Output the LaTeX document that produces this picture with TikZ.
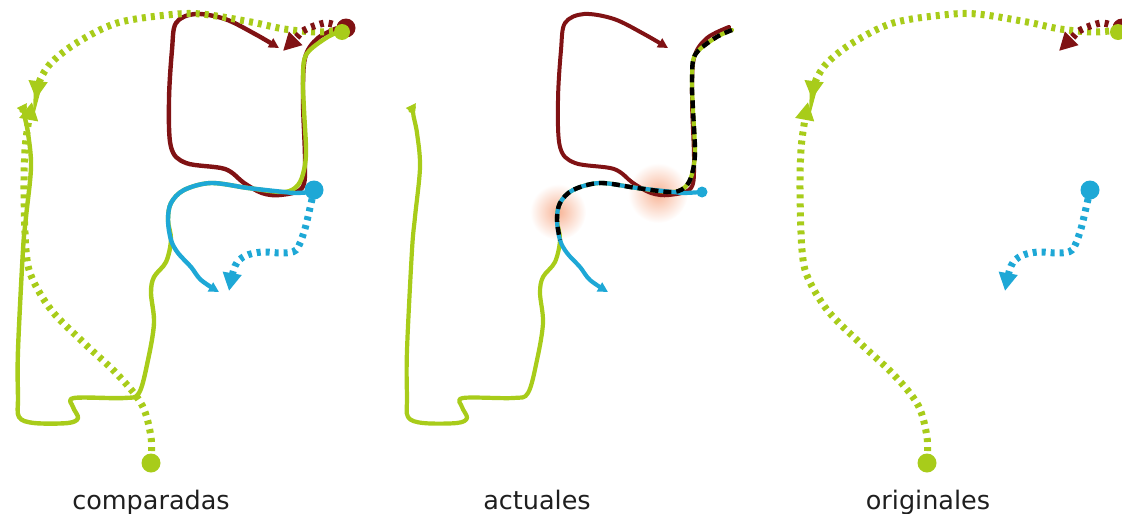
\documentclass[tikz,border=0pt]{standalone}
\usepackage{fontspec}
\setmainfont{DejaVu Sans}
\usetikzlibrary{arrows.meta}
\definecolor{gr}{RGB}{168,204,26}
\definecolor{rd}{RGB}{128,18,20}
\definecolor{bl}{RGB}{30,168,214}
\definecolor{glow}{RGB}{248,180,150}
\tikzset{
  solidline/.style={line width=4.4pt, line cap=round, line join=round},
  dotline/.style={line width=7pt, dash pattern=on 4pt off 5pt},
  bigtip/.style={-{Triangle[length=18pt,width=18pt]}},
  smalltip/.style={-{Triangle[length=10pt,width=10pt]}},
  lbl/.style={anchor=base, font=\fontsize{25.5}{30}\selectfont, text=black!88, inner sep=0pt}
}
\newcommand{\redsolid}{plot[smooth, tension=0.55] coordinates {(340,27) (318,38) (305,58) (303,100) (305,160) (302,188) (280,195) (262,193) (244,183) (225,169) (186,163) (171,147) (169,100) (172,50) (176,23) (195,14) (225,19) (255,34) (279,48)}}
\newcommand{\greensolid}{plot[smooth, tension=0.55] coordinates {(343,30) (326,38) (306,55) (303,80) (304,110) (306,150) (304,170) (298,185) (284,192) (248,188) (211,183) (184,190) (171,203) (168,220) (171,240) (166,262) (154,277) (151,293) (154,323) (148,360) (139,393) (124,398) (74,398) (73,407) (78,418) (68,423) (34,423) (19,417) (18,397) (18,350) (23,250) (26,217) (31,167) (28,133) (24,112) (27,103)}}
\newcommand{\bluesolid}{plot[smooth, tension=0.55] coordinates {(313,192) (295,193) (284,192) (248,188) (211,183) (184,190) (171,203) (168,220) (171,240) (178,253) (191,267) (201,280) (219,292)}}
\newcommand{\dashedpart}{plot[smooth, tension=0.55] coordinates {(343,30) (326,38) (306,55) (303,80) (304,110) (306,150) (304,170) (298,185) (284,192) (248,188) (211,183) (184,190) (171,203) (168,220) (171,240)}}
\newcommand{\dotA}{plot[smooth, tension=0.55] coordinates {(151,460) (151,437) (142,405) (118,375) (84,343) (52,311) (32,278) (26,250) (24,190) (25,150) (28,125) (32,102)}}
\newcommand{\dotB}{plot[smooth, tension=0.55] coordinates {(342,30) (317,32) (284,29) (251,22) (201,14) (167,15) (117,23) (78,42) (52,62) (40,80) (36,99)}}
\newcommand{\dotBlue}{plot[smooth, tension=0.55] coordinates {(314,190) (310,208) (304,232) (296,250) (282,253) (262,252) (245,256) (235,266) (229,291)}}
\newcommand{\dotRed}{plot[smooth, tension=0.55] coordinates {(341,27) (327,23) (314,26) (303,31) (296,38) (283,51)}}
\newcommand{\original}{%
  \draw[dotline, gr, bigtip] \dotA;
  \draw[dotline, gr, bigtip] \dotB;
  \draw[dotline, rd, bigtip] \dotRed;
  \draw[dotline, bl, bigtip] \dotBlue;
  \fill[rd] (346,28) circle (9.5);
  \fill[gr] (342,32) circle (8);
  \fill[gr] (151,463) circle (9.5);
  \fill[bl] (314,190) circle (9.5);
}
\begin{document}
\begin{tikzpicture}[x=1pt,y=-1pt]
\useasboundingbox (0,0) rectangle (1122,514);
% left panel: comparadas
\begin{scope}
  \draw[solidline, rd, smalltip] \redsolid;
  \draw[solidline, gr, smalltip] \greensolid;
  \draw[solidline, bl, smalltip] \bluesolid;
  \original
\end{scope}
% middle panel: actuales
\begin{scope}[xshift=389pt]
  \shade[inner color=glow, outer color=white] (169,212) circle (28);
  \shade[inner color=glow, outer color=white] (269,193) circle (30);
  \draw[solidline, rd, smalltip, line width=4pt] \redsolid;
  \draw[solidline, gr, smalltip, line width=4.2pt] \greensolid;
  \draw[solidline, bl, smalltip, line width=4.2pt] \bluesolid;
  \fill[bl] (313,192) circle (5.5);
  \draw[line width=4.4pt, black, dash pattern=on 8pt off 5pt] \dashedpart;
\end{scope}
% right panel: originales
\begin{scope}[xshift=776pt]
  \original
\end{scope}
\node[lbl] (l1) at (151,509) {comparadas};
\node[lbl] (l2) at (537,509) {actuales};
\node[lbl] (l3) at (928,509) {originales};
\end{tikzpicture}
\end{document}
